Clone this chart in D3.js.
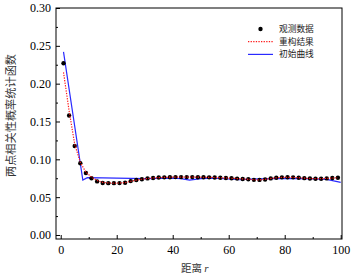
<!DOCTYPE html>
<html>
<head>
<meta charset="utf-8">
<script src="https://cdn.jsdelivr.net/npm/d3@7"></script>
<style>
  body { margin: 0; background: #fff; }
  svg { display: block; }
  .tick text { font-family: "Liberation Serif", "DejaVu Serif", serif; font-size: 12px; fill: #000; }
  .domain { display: none; }
</style>
</head>
<body>
<div id="chart"></div>
<script>
// distance r of the sampled points
const obsR = [1, 3, 5, 7, 9, 11, 13, 15, 17, 19, 21, 23, 25, 27, 29, 31, 33, 35, 37, 39,
    41, 43, 45, 47, 49, 51, 53, 55, 57, 59, 61, 63, 65, 67, 69, 71, 73, 75, 77, 79,
    81, 83, 85, 87, 89, 91, 93, 95, 97, 99];

// observed data (black dots)
const obsValues = [0.227, 0.158, 0.1176, 0.0948, 0.082, 0.075, 0.0708, 0.0688, 0.0685, 0.0685,
    0.0686, 0.069, 0.0712, 0.0726, 0.0737, 0.0748, 0.0754, 0.0759, 0.0762, 0.0764,
    0.0765, 0.0765, 0.0765, 0.0765, 0.0764, 0.0764, 0.0762, 0.076, 0.0757, 0.0754,
    0.075, 0.0745, 0.074, 0.0736, 0.0729, 0.0728, 0.0734, 0.0748, 0.0757, 0.0762,
    0.0763, 0.0762, 0.0757, 0.0751, 0.0746, 0.0744, 0.0744, 0.0748, 0.0753, 0.0757];

// reconstruction result (red dotted)
const reconValues = [0.215, 0.164, 0.12, 0.096, 0.083, 0.0765, 0.072, 0.0695, 0.0688, 0.0686,
    0.0687, 0.0692, 0.071, 0.0725, 0.0737, 0.0747, 0.0754, 0.0758, 0.0762, 0.0764,
    0.0765, 0.0765, 0.0764, 0.0764, 0.0764, 0.0763, 0.0762, 0.076, 0.0757, 0.0754,
    0.075, 0.0746, 0.0741, 0.0736, 0.073, 0.0729, 0.0735, 0.0747, 0.0756, 0.0761,
    0.0763, 0.0761, 0.0757, 0.0751, 0.0747, 0.0745, 0.0745, 0.0748, 0.0752, 0.0756];

// initial curve (blue)
const initR = [1, 7.9, 9.5, 15, 20, 25, 30, 35, 40, 43, 46, 50, 55, 60, 64, 68, 75, 80, 85, 90, 95, 100];
const initValues = [0.242, 0.0725, 0.0758, 0.0755, 0.0752, 0.0748, 0.0745, 0.0748, 0.0752, 0.0745,
    0.0725, 0.0745, 0.0752, 0.074, 0.073, 0.0738, 0.0745, 0.0748, 0.0745, 0.0742, 0.0735, 0.0695];

const xMajor = [0, 20, 40, 60, 80, 100];
const xMinor = [10, 30, 50, 70, 90];
const yMajor = [0, 0.05, 0.10, 0.15, 0.20, 0.25, 0.30];
const yMinor = [0.025, 0.075, 0.125, 0.175, 0.225, 0.275];

const legendLabels = ["观测数据", "重构结果", "初始曲线"];

// Setting the margins
const margin = {top: 8, right: 12, bottom: 39, left: 56},
    width = 354 - margin.left - margin.right,
    height = 278 - margin.top - margin.bottom;

const x = d3.scaleLinear().domain([-1.68, 100.46]).range([0, width]);
const y = d3.scaleLinear().domain([-0.0053, 0.30]).range([height, 0]);

const svg = d3.select("#chart").append("svg")
    .attr("width", width + margin.left + margin.right)
    .attr("height", height + margin.top + margin.bottom)
    .append("g")
    .attr("transform", "translate(" + margin.left + "," + margin.top + ")");

// axes, ticks pointing inwards
svg.append("g")
    .attr("transform", "translate(0," + height + ")")
    .call(d3.axisBottom(x).tickValues(xMajor).tickSize(-4).tickPadding(6).tickFormat(d3.format("d")));
svg.append("g")
    .attr("transform", "translate(0," + height + ")")
    .call(d3.axisBottom(x).tickValues(xMinor).tickSize(-2).tickFormat(""));
svg.append("g")
    .call(d3.axisLeft(y).tickValues(yMajor).tickSize(-4).tickPadding(5).tickFormat(d3.format(".2f")));
svg.append("g")
    .call(d3.axisLeft(y).tickValues(yMinor).tickSize(-2).tickFormat(""));
svg.selectAll(".tick line").attr("stroke", "#000");

// frame
svg.append("rect")
    .attr("width", width)
    .attr("height", height)
    .attr("fill", "none")
    .attr("stroke", "#000")
    .attr("stroke-width", 1);

const obs = obsR.map((r, i) => ({r: r, v: obsValues[i]}));
const recon = obsR.map((r, i) => ({r: r, v: reconValues[i]}));
const init = initR.map((r, i) => ({r: r, v: initValues[i]}));

const line = d3.line()
    .x(d => x(d.r))
    .y(d => y(d.v));

svg.append("path")
    .attr("d", line(init))
    .style("fill", "none")
    .style("stroke", "#2a2aff")
    .style("stroke-width", 1.2);

svg.selectAll(".dot")
    .data(obs)
    .enter().append("circle")
    .attr("class", "dot")
    .attr("cx", d => x(d.r))
    .attr("cy", d => y(d.v))
    .attr("r", 2.2)
    .attr("fill", "#000");

svg.append("path")
    .attr("d", line(recon))
    .style("fill", "none")
    .style("stroke", "#ff1a1a")
    .style("stroke-width", 1.2)
    .style("stroke-dasharray", "1.3,1.3");

// legend
const legend = svg.selectAll(".legend")
    .data(legendLabels)
    .enter().append("g")
    .attr("class", "legend")
    .attr("transform", (d, i) => "translate(" + (width - 94) + "," + (21 + i * 12.7) + ")");

legend.filter((d, i) => i === 0).append("circle")
    .attr("cx", 12.5).attr("r", 2.2).attr("fill", "#000");
legend.filter((d, i) => i === 1).append("line")
    .attr("x1", 0).attr("x2", 25)
    .style("stroke", "#ff1a1a").style("stroke-width", 1.2).style("stroke-dasharray", "1.3,1.3");
legend.filter((d, i) => i === 2).append("line")
    .attr("x1", 0).attr("x2", 25)
    .style("stroke", "#2a2aff").style("stroke-width", 1.2);

legend.append("text")
    .attr("x", 31)
    .attr("dy", ".35em")
    .style("font-family", "'Noto Sans CJK SC'")
    .style("font-size", "8.7px")
    .style("fill", "#222")
    .text(d => d);

// axis titles
svg.append("text")
    .attr("transform", "translate(" + (-45) + "," + (height / 2 - 8) + ") rotate(-90)")
    .attr("dy", ".35em")
    .style("text-anchor", "middle")
    .style("font-family", "'Noto Sans CJK SC'")
    .style("font-size", "11.2px")
    .style("fill", "#333")
    .text("两点相关性概率统计函数");

const xTitle = svg.append("text")
    .attr("x", 125)
    .attr("y", height + 33)
    .style("font-family", "'Noto Sans CJK SC'")
    .style("font-size", "10.5px")
    .style("fill", "#333");
xTitle.append("tspan").text("距离 ");
xTitle.append("tspan")
    .style("font-family", "'Liberation Serif'")
    .style("font-style", "italic")
    .style("font-size", "11px")
    .text("r");
</script>
</body>
</html>
